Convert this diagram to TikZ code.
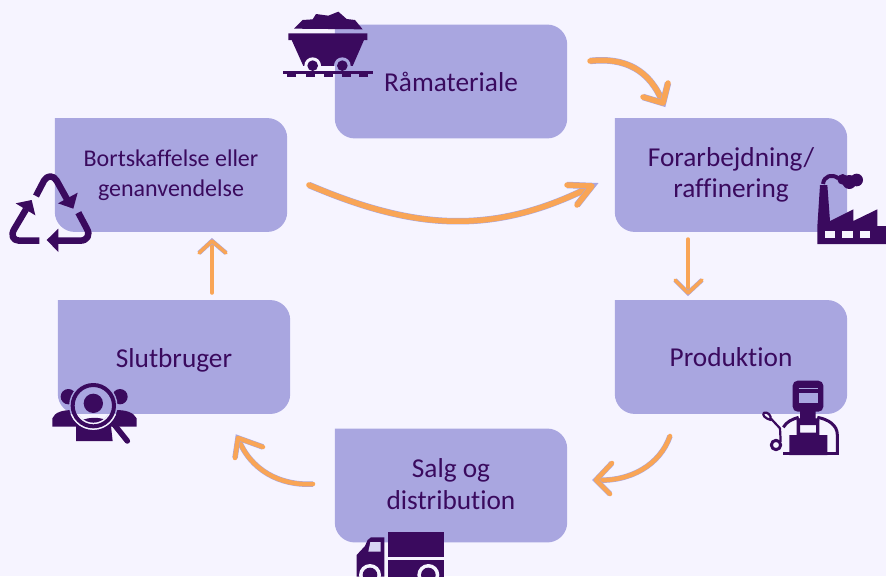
\documentclass[tikz,border=0pt]{standalone}
\usepackage{fontspec}
\setmainfont{Carlito}[Ligatures=NoCommon]
\usetikzlibrary{backgrounds}
\definecolor{pagebg}{HTML}{F6F4FF}
\definecolor{stagefill}{HTML}{A9A6E0}
\definecolor{ink}{HTML}{3A0A5E}
\definecolor{flowcol}{HTML}{F9A556}
\tikzset{
  stagebox/.style={minimum width=232pt,minimum height=113.5pt,inner sep=0pt,align=center,text=ink,font=\fontsize{27.3}{31}\selectfont},
  smallstage/.style={stagebox,font=\fontsize{24}{30}\selectfont},
  flow/.style={color=flowcol,line width=#1,line cap=round,line join=round,
    preaction={draw=stagefill,line width=#1+1pt}},
  flow/.default=5.5pt,
  icon/.style={fill=ink,draw=none},
  iconline/.style={draw=ink,line cap=butt,line join=round,fill=none},
}
\begin{document}
\begin{tikzpicture}[x=1pt,y=-1pt]
  \useasboundingbox (0,0) rectangle (886,576);
  \node[stagebox] (raw) at (451,81.5) {Råmateriale};
  \node[stagebox] (refine) at (731,175) {Forarbejdning/\\raffinering};
  \node[stagebox] (produce) at (731,357) {\raisebox{-1pt}{Produktion}};
  \node[stagebox] (sales) at (451,485.5) {\raisebox{3pt}{Salg og}\\\raisebox{2pt}{distribution}};
  \node[stagebox] (user) at (174,357) {\raisebox{0pt}[20pt][0pt]{Slutbruger}};
  \node[smallstage] (disposal) at (171,175) {Bortskaffelse eller\\genanvendelse};
  \begin{scope}[on background layer]
    \fill[pagebg] (0,0) rectangle (886,576);
    \foreach \stage in {raw,refine,produce,sales,user,disposal}
      \fill[stagefill] (\stage.north west) [rounded corners=20pt] -- (\stage.north east)
        -- (\stage.south east) -- (\stage.south west) -- (\stage.north west);
  \end{scope}
  % flows
  \coordinate (rawout) at (590,61);
  \coordinate (refinein) at (663,103);
  \coordinate (refineout) at (688,239);
  \coordinate (producein) at (688,293);
  \coordinate (produceout) at (670,436);
  \coordinate (salesin) at (596,480);
  \coordinate (salesout) at (313,484);
  \coordinate (userin) at (238,438);
  \coordinate (userout) at (212,293);
  \coordinate (disposalin) at (212,241);
  \coordinate (disposalout) at (309,185);
  \coordinate (refineback) at (592,186);
  \draw[flow] (rawout) .. controls (625,57) and (650,70) .. (refinein);
  \draw[flow] (643,97) -- (refinein) -- (668,83);
  \draw[flow=3.5pt] (refineout) -- (producein);
  \draw[flow=3.5pt] (675,280) -- (producein) -- (702,280);
  \draw[flow=4.5pt] (produceout) .. controls (660,465) and (630,482) .. (salesin);
  \draw[flow=4.5pt] (612,463) -- (salesin) -- (610,494);
  \draw[flow=4.5pt] (salesout) .. controls (280,486) and (250,470) .. (userin);
  \draw[flow=4.5pt] (235,458) -- (userin) -- (263,447);
  \draw[flow=3.5pt] (userout) -- (disposalin);
  \draw[flow=3.5pt] (199,253) -- (disposalin) -- (226,253);
  \draw[flow] (disposalout) .. controls (410,228) and (490,238) .. (refineback);
  \draw[flow] (567,185) -- (refineback) -- (577,205);
  % mine cart
  \begin{scope}[shift={(270,0)},scale=1/3]
    \fill[icon] (72,86) -- (98,60) -- (128,58) -- (138,42) -- (175,47) -- (205,35) -- (230,57) -- (255,60) -- (278,88) -- cycle;
    \fill[icon] (55,100) -- (292,100) -- (292,120) -- (282,120) -- (248,198) -- (100,198) -- (65,120) -- (55,120) -- cycle;
    \fill[pagebg] (128,197) circle[radius=25];
    \fill[stagefill] (217,197) circle[radius=25];
    \fill[pagebg] (55,198) rectangle (195,212);
    \fill[stagefill] (195,198) rectangle (292,212);
    \fill[icon] (128,197) circle[radius=16];
    \fill[icon] (217,197) circle[radius=16];
    \fill[icon] (38,212) rectangle (308,222);
    \foreach \tie in {52,108,162,215,268}
      \fill[icon] (\tie,222) rectangle ++(27,10);
  \end{scope}
  % recycling
  \begin{scope}[shift={(0,160)},scale=1/3]
    \draw[iconline,line width=6.5pt] (108,108) -- (132,62) .. controls (142,45) and (160,45) .. (170,62) -- (205,125);
    \fill[icon] (233,98) -- (220,146) -- (174,130) -- cycle;
    \draw[iconline,line width=6.5pt] (235,158) -- (260,205) .. controls (272,225) and (262,242) .. (240,242) -- (170,242);
    \fill[icon] (175,206) -- (175,276) -- (140,240) -- cycle;
    \draw[iconline,line width=6.5pt] (118,242) -- (58,242) .. controls (38,242) and (32,225) .. (43,207) -- (78,148);
    \fill[icon] (47,130) -- (95,120) -- (106,166) -- cycle;
  \end{scope}
  % factory
  \begin{scope}[shift={(800,160)},scale=1/3]
    \fill[icon] (60,75) -- (82,75) -- (90,183) -- (160,148) -- (160,183) -- (232,148) -- (232,198) -- (258,198) -- (258,252) -- (52,252) -- (52,200) -- cycle;
    \foreach \win in {75,127,180}
      \fill[pagebg] (\win,212) rectangle ++(31,23);
    \draw[iconline,line width=4pt] (69,72) .. controls (72,48) and (95,40) .. (115,55);
    \fill[icon] (128,58) circle[radius=16];
    \fill[icon] (148,66) circle[radius=21];
    \fill[icon] (170,60) circle[radius=19];
  \end{scope}
  % welder
  \begin{scope}[shift={(750,370)},scale=1/3]
    \fill[icon,rounded corners=5pt] (128,32) rectangle (220,125);
    \fill[stagefill] (146,68) rectangle (204,98);
    \draw[stagefill,line width=.6pt] (146,56) -- (204,56);
    \fill[icon] (150,120) -- (197,120) -- (197,145) -- (208,152) -- (198,165) -- (150,165) -- (140,152) -- (150,145) -- cycle;
    \draw[iconline,line width=3pt] (100,172) .. controls (110,155) and (125,148) .. (146,142);
    \draw[iconline,line width=3pt] (202,142) .. controls (235,148) and (262,165) .. (262,195) -- (262,252);
    \fill[icon] (118,255) -- (118,195) -- (140,195) -- (140,145) -- (150,145) -- (150,188) -- (198,188) -- (198,145) -- (208,145) -- (208,195) -- (232,195) -- (232,255) -- cycle;
    \fill[icon] (100,247) rectangle (266,255);
    \draw[iconline,line width=3pt] (78,225) circle[radius=14];
    \draw[iconline,line width=2.2pt] (92,215) -- (90,175) -- (62,145);
    \draw[iconline,line width=2.2pt] (62,150) .. controls (45,145) and (35,135) .. (42,128) .. controls (52,125) and (65,135) .. cycle;
  \end{scope}
  % truck
  \begin{scope}[shift={(345,520)},scale=1/3]
    \fill[icon] (130,35) rectangle (297,110);
    \fill[icon] (130,120) rectangle (297,170);
    \fill[icon] (118,52) -- (118,170) -- (35,170) -- (35,105) -- (60,78) -- (68,60) -- (78,52) -- cycle;
    \fill[stagefill!40!pagebg] (76,66) -- (107,66) -- (107,95) -- (70,95) -- cycle;
    \foreach \wheel in {75,250} {
      \fill[pagebg] (\wheel,165) circle[radius=33];
      \fill[icon] (\wheel,165) circle[radius=22];
    }
  \end{scope}
  % users
  \begin{scope}[shift={(40,375)},scale=1/3]
    \fill[icon] (85,65) circle[radius=23];
    \fill[icon] (240,65) circle[radius=23];
    \fill[icon] (37,155) -- (37,130) .. controls (45,112) and (65,105) .. (100,105) -- (120,155) -- cycle;
    \fill[icon] (290,155) -- (290,130) .. controls (280,112) and (260,105) .. (225,105) -- (205,155) -- cycle;
    \fill[icon] (108,198) -- (108,150) .. controls (125,122) and (195,122) .. (212,145) -- (218,198) -- cycle;
    \draw[stagefill,line width=7pt] (160,92) circle[radius=62];
    \begin{scope}
      \clip (0,117) rectangle (300,240);
      \draw[pagebg,line width=7pt] (160,92) circle[radius=62];
    \end{scope}
    \fill[icon] (160,85) circle[radius=29];
    \draw[iconline,line width=4pt] (160,92) circle[radius=62];
    \draw[iconline,line width=5.5pt,line cap=round] (222,148) -- (262,198);
  \end{scope}
\end{tikzpicture}
\end{document}
